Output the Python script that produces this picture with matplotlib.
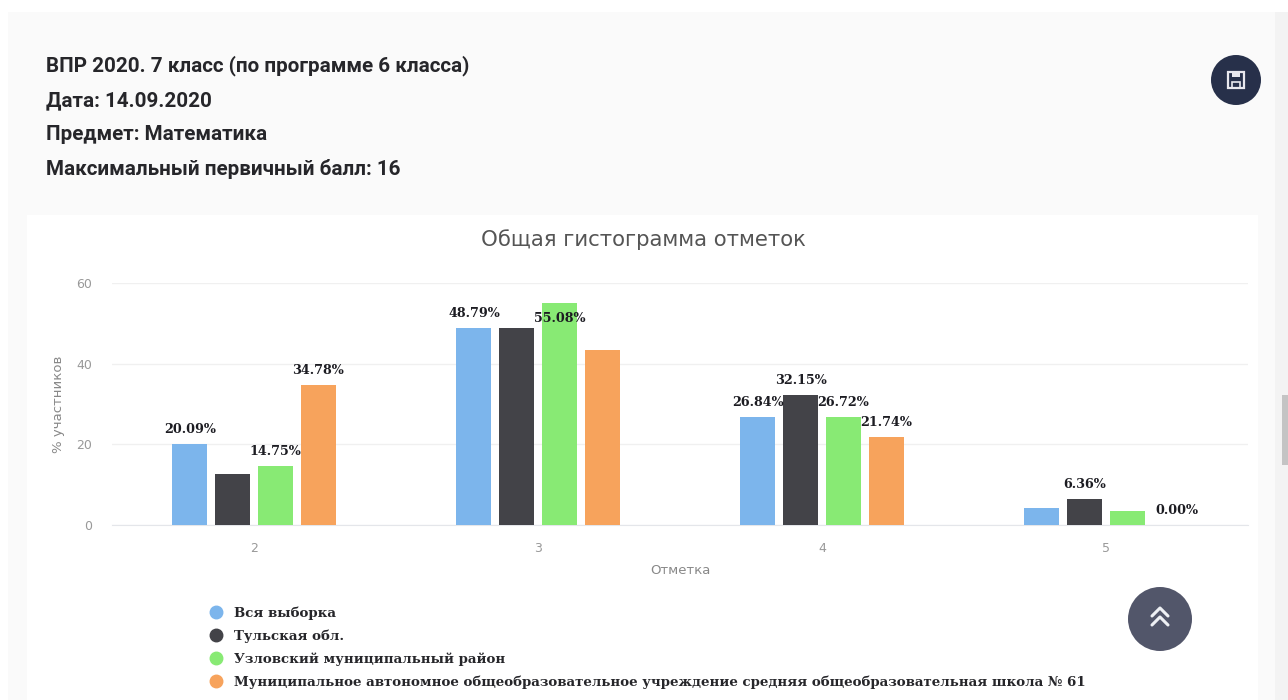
import matplotlib
matplotlib.use("Agg")
import matplotlib.pyplot as plt
from matplotlib.lines import Line2D
from matplotlib.patches import Circle, Rectangle

# данные
grades = ["2", "3", "4", "5"]
series_names = [
    "Вся выборка",
    "Тульская обл.",
    "Узловский муниципальный район",
    "Муниципальное автономное общеобразовательное учреждение средняя общеобразовательная школа № 61",
]
all_sample = [20.09, 48.79, 26.84, 4.28]
region = [12.7, 48.8, 32.15, 6.36]
district = [14.75, 55.08, 26.72, 3.45]
school = [34.78, 43.48, 21.74, 0.00]
colors = ["#7cb5ec", "#434348", "#88ea74", "#f7a35c"]
y_ticks = [0, 20, 40, 60]
header_lines = [
    "ВПР 2020. 7 класс (по программе 6 класса)",
    "Дата: 14.09.2020",
    "Предмет: Математика",
    "Максимальный первичный балл: 16",
]
chart_title = "Общая гистограмма отметок"
x_title = "Отметка"
y_title = "% участников"

W, H = 1288, 700
fig = plt.figure(figsize=(W / 100, H / 100), dpi=100, facecolor="white")

# страница: фон, карточка, кнопки (координаты в пикселях)
bg = fig.add_axes([0, 0, 1, 1])
bg.set_xlim(0, W)
bg.set_ylim(H, 0)
bg.axis("off")
bg.add_patch(Rectangle((8, 12), 1267, 688, color="#fafafa", lw=0))
bg.add_patch(Rectangle((27, 215), 1231, 485, color="white", lw=0))
bg.add_patch(Rectangle((1275, 12), 13, 688, color="#f3f3f3", lw=0))
bg.add_patch(Rectangle((1282, 395), 6, 70, color="#c4c4c4", lw=0))

for line, y in zip(header_lines, [66, 101, 134, 169]):
    bg.text(46, y, line, family="Roboto", fontsize=14.9, fontweight="bold",
            color="#26262a", va="center", ha="left")

# кнопка сохранения
bg.add_patch(Circle((1236, 80), 25, color="#27304a", lw=0))
bg.add_patch(Rectangle((1228, 72), 16, 16, fc="none", ec="#e8e8ee", lw=1.6))
bg.add_patch(Rectangle((1232, 73), 8, 4, color="#e8e8ee", lw=0))
bg.add_patch(Rectangle((1232, 82), 8, 6, fc="none", ec="#e8e8ee", lw=1.2))

# кнопка наверх
bg.add_patch(Circle((1160, 619), 32, color="#52566a", lw=0))
for dy in (0, 9):
    bg.plot([1152, 1160, 1168], [616 + dy, 608 + dy, 616 + dy],
            color="#eef0f4", lw=2.2, solid_capstyle="round")

# сам график
ax = fig.add_axes([112 / W, 1 - 525 / H, 1136 / W, 242 / H])
ax.patch.set_alpha(0)
ax.set_xlim(-0.5, 3.5)
ax.set_ylim(0, 60)

bar_w = 0.123
step = 0.1505
all_series = [all_sample, region, district, school]
hidden = {(0, 3), (1, 0), (1, 1), (2, 3), (3, 1)}   # подписи, скрытые на исходнике

for s, (values, name, color) in enumerate(zip(all_series, series_names, colors)):
    offs = [g + (s - 1.5) * step for g in range(len(grades))]
    ax.bar(offs, values, width=bar_w, color=color, zorder=3)
    for g, v in enumerate(values):
        if (s, g) in hidden:
            continue
        dx, dy = 0, 14.5
        if (s, g) == (2, 1):
            dy = -16
        if (s, g) == (3, 3):
            dx = 7
        ax.annotate(f"{v:.2f}%", (offs[g], v), xytext=(dx * 0.72, dy * 0.72),
                    textcoords="offset points", ha="center", va="center",
                    fontsize=9.2, fontweight="bold", family="DejaVu Serif",
                    color="#1c1c22", zorder=5)

ax.set_xticks(range(len(grades)), grades)
ax.set_yticks(y_ticks)
ax.grid(axis="y", color="#f0f0f0", lw=1, zorder=0)
ax.tick_params(axis="both", length=0, labelsize=9, labelcolor="#999999")
ax.tick_params(axis="x", pad=12)
ax.tick_params(axis="y", pad=14.5)
for side in ("top", "right", "left"):
    ax.spines[side].set_visible(False)
ax.spines["bottom"].set_color("#e4e6ea")

ax.set_xlabel(x_title, fontsize=9.5, color="#888888", labelpad=7)
ax.set_ylabel(y_title, fontsize=9.5, color="#888888", labelpad=8)
ax.set_title(chart_title, fontsize=15.3, color="#555555", x=0.468, y=1.12)

handles = [Line2D([], [], ls="", marker="o", ms=9, color=c) for c in colors]
leg = fig.legend(handles, series_names, loc="upper left",
                 bbox_to_anchor=(203 / W, 1 - 606 / H), frameon=False,
                 handletextpad=0.3, labelspacing=0.72, borderpad=0,
                 borderaxespad=0, prop={"family": "DejaVu Serif", "weight": "bold", "size": 9.62})
for t in leg.get_texts():
    t.set_color("#26262a")

fig.savefig("out.png", dpi=100)
